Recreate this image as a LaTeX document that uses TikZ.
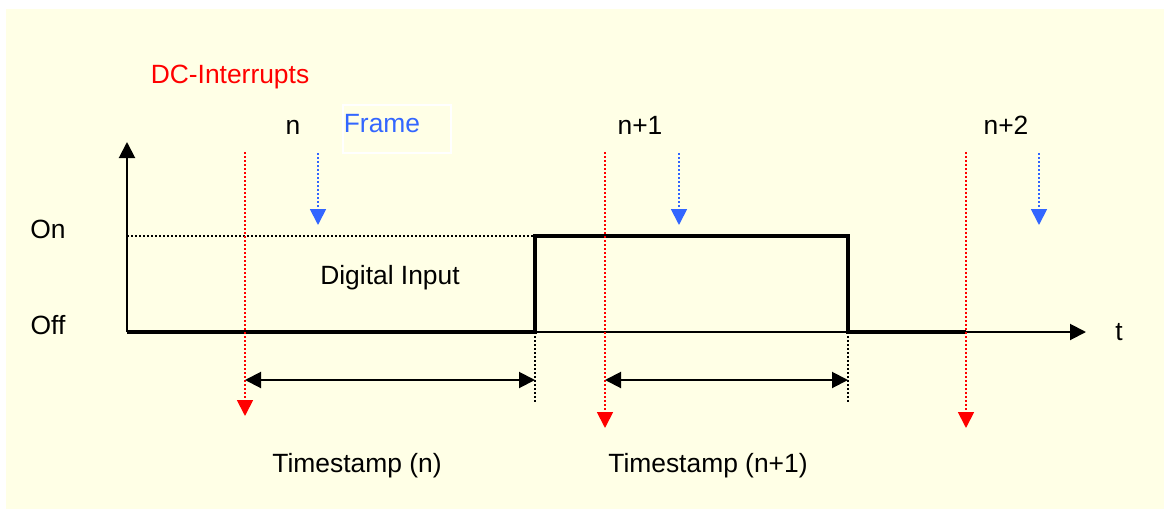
\documentclass[tikz,border=0pt]{standalone}
\usepackage{fontspec}
\setmainfont{Liberation Sans}
\usetikzlibrary{arrows.meta}
\definecolor{bgyellow}{RGB}{255,255,230}
\definecolor{dcred}{RGB}{255,0,0}
\definecolor{frameblue}{RGB}{51,102,255}
\begin{document}
\begin{tikzpicture}[x=0.5pt,y=-0.5pt,
  lbl/.style={font=\fontsize{13.2}{15}\selectfont, inner sep=0pt, anchor=base},
  axis/.style={line width=1pt, -{Triangle[length=8pt,width=8pt]}},
  signal/.style={line width=2.2pt, line join=miter},
  reddot/.style={dcred, line width=0.9pt, dash pattern=on 1pt off 1pt, -{Triangle[length=8pt,width=8pt]}},
  bluedot/.style={frameblue, line width=0.9pt, dash pattern=on 1pt off 1pt, -{Triangle[length=8pt,width=8pt]}},
  blackdot/.style={line width=0.9pt, dash pattern=on 1pt off 1pt},
  span/.style={line width=1pt, {Triangle[length=8pt,width=8pt]}-{Triangle[length=8pt,width=8pt]}}]
\useasboundingbox (0,0) rectangle (1164,509);
\fill[bgyellow] (6,9) rectangle (1164,509);
% coordinates
\coordinate (O) at (127,332);
\coordinate (ytop) at (127,142);
\coordinate (xend) at (1086,332);
\coordinate (on0) at (127,236);
\coordinate (r1) at (535,332);
\coordinate (r1t) at (535,236);
\coordinate (f1t) at (848,236);
\coordinate (f1) at (848,332);
\coordinate (send) at (966,332);
\coordinate (r1b) at (535,403);
\coordinate (f1b) at (848,403);
\coordinate (dc1s) at (245,152); \coordinate (dc1e) at (245,416);
\coordinate (dc2s) at (605,152); \coordinate (dc2e) at (605,428);
\coordinate (dc3s) at (966,152); \coordinate (dc3e) at (966,428);
\coordinate (fr1s) at (318,153); \coordinate (fr1e) at (318,225);
\coordinate (fr2s) at (679,153); \coordinate (fr2e) at (679,225);
\coordinate (fr3s) at (1039,153); \coordinate (fr3e) at (1039,225);
\coordinate (ts1a) at (245,380); \coordinate (ts1b) at (535,380);
\coordinate (ts2a) at (605,380); \coordinate (ts2b) at (848,380);
% frame box
\node[draw=white, line width=0.6pt, minimum width=54pt, minimum height=24pt, inner sep=0pt] (framebox) at (397,129) {};
% axes
\draw[blackdot] (on0) -- (r1t);
\draw[axis] (O) -- (ytop);
\draw[axis] (O) -- (xend);
\draw[signal] (O) -- (r1) -- (r1t) -- (f1t) -- (f1) -- (send);
\draw[blackdot] (r1) -- (r1b);
\draw[blackdot] (f1) -- (f1b);
% interrupts
\draw[reddot] (dc1s) -- (dc1e);
\draw[reddot] (dc2s) -- (dc2e);
\draw[reddot] (dc3s) -- (dc3e);
\draw[bluedot] (fr1s) -- (fr1e);
\draw[bluedot] (fr2s) -- (fr2e);
\draw[bluedot] (fr3s) -- (fr3e);
% timestamps
\draw[span] (ts1a) -- (ts1b);
\draw[span] (ts2a) -- (ts2b);
% labels
\node[lbl, text=dcred] (dclbl) at (230,83) {DC-Interrupts};
\node[lbl] (n0) at (293,134) {n};
\node[lbl, text=frameblue] (framelbl) at (382,132) {Frame};
\node[lbl] (n1) at (640,134) {n+1};
\node[lbl] (n2) at (1006,134) {n+2};
\node[lbl] (onlbl) at (48,238) {On};
\node[lbl] (offlbl) at (48,334) {Off};
\node[lbl] (dilbl) at (390,284) {Digital Input};
\node[lbl] (tlbl) at (1119,340) {t};
\node[lbl] (ts1lbl) at (357,472) {Timestamp (n)};
\node[lbl] (ts2lbl) at (708,472) {Timestamp (n+1)};
\end{tikzpicture}
\end{document}
